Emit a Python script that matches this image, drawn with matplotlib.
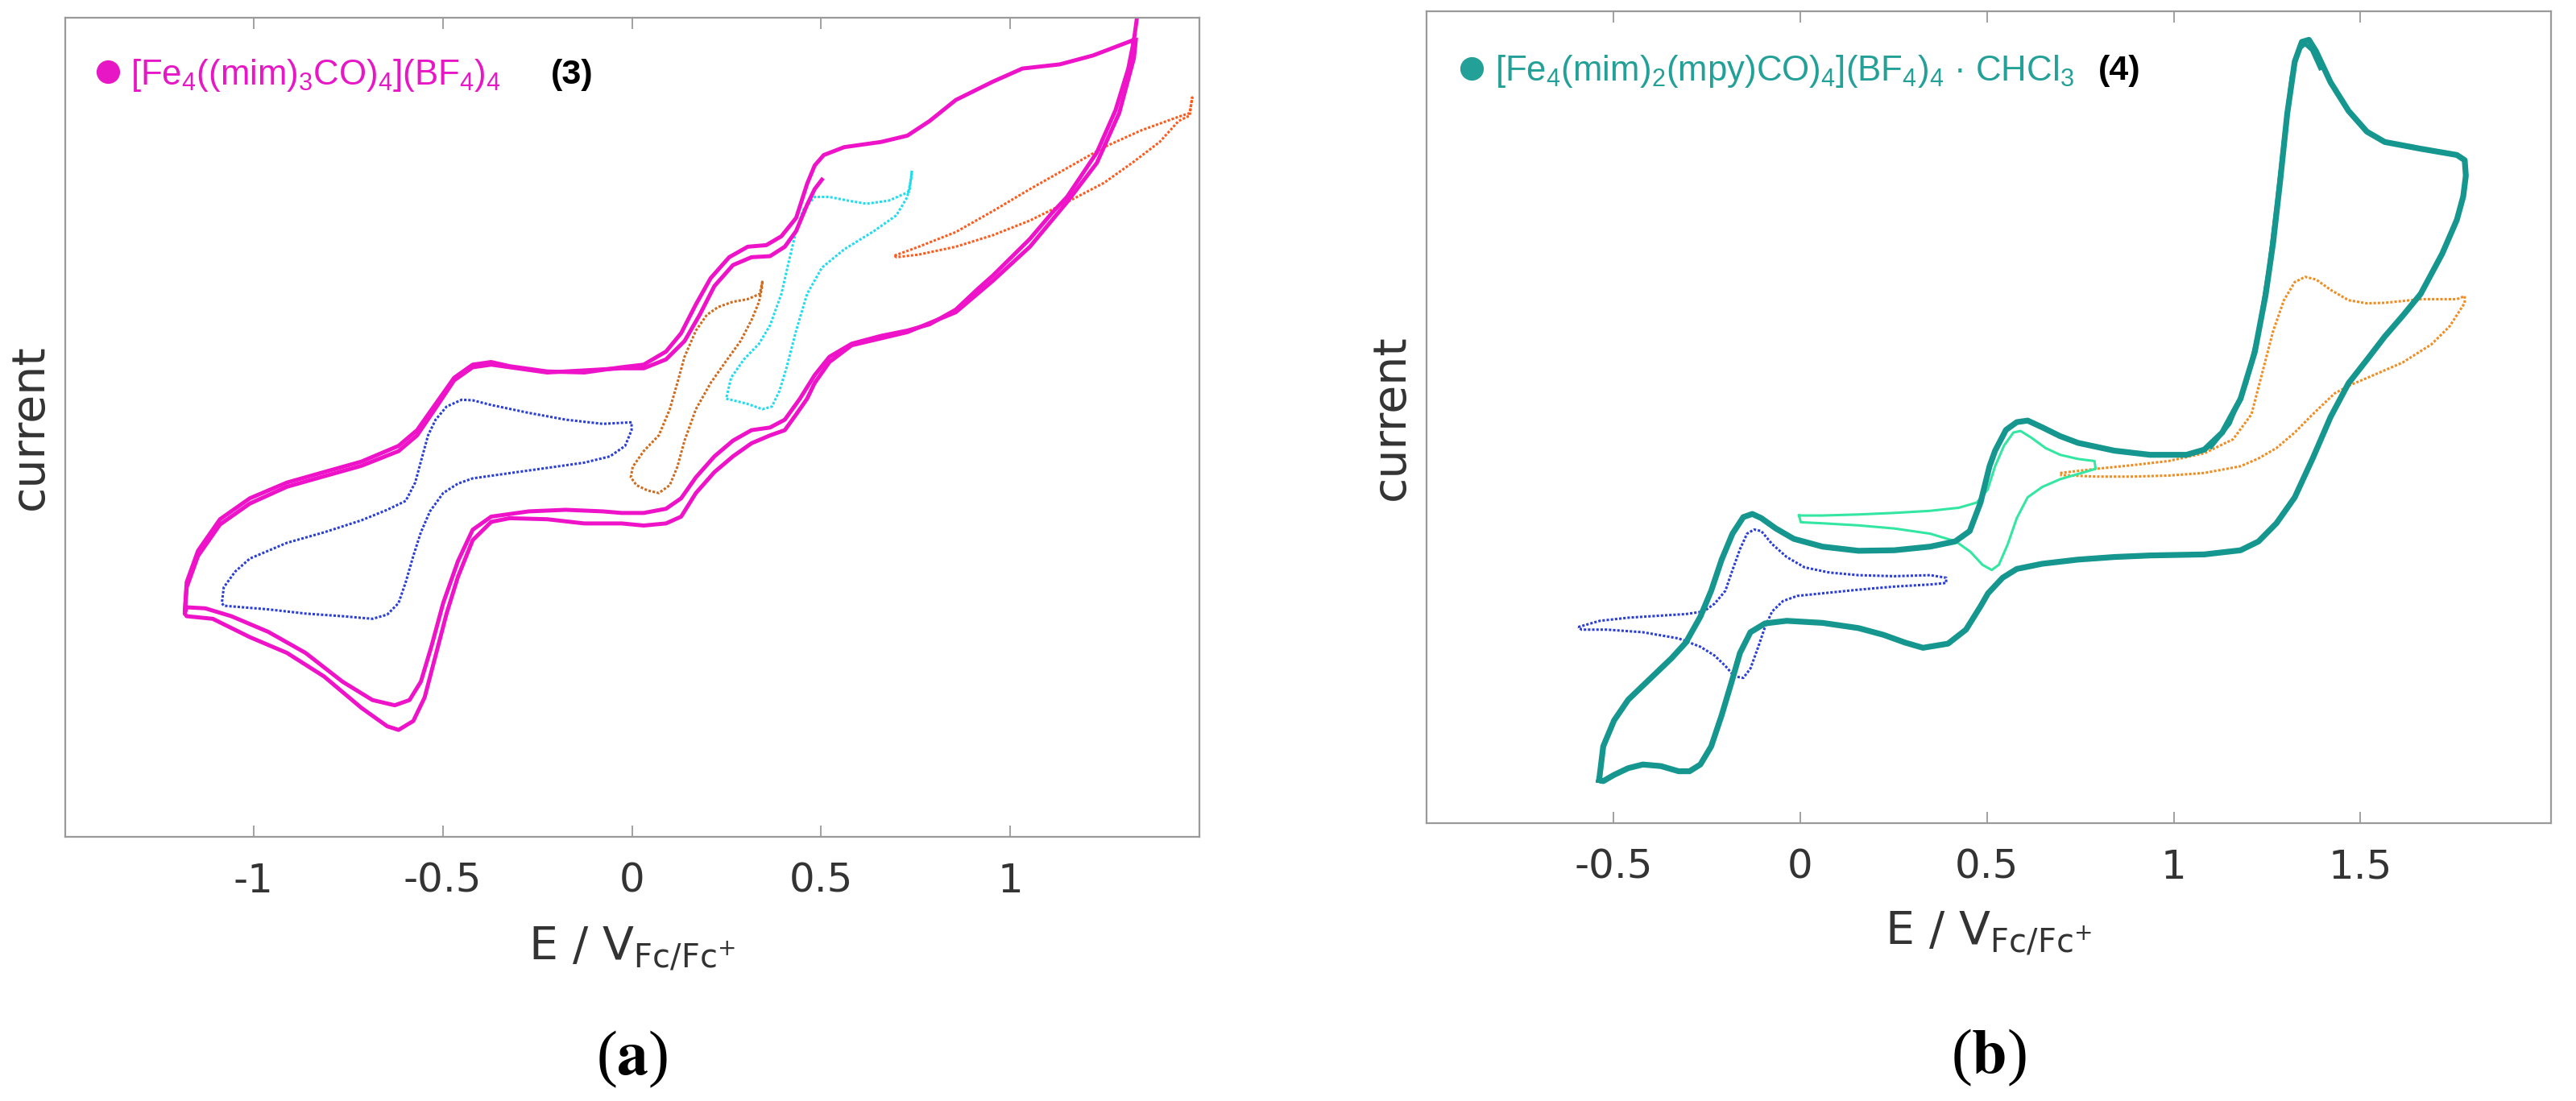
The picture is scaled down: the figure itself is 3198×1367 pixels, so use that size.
import matplotlib
matplotlib.use("Agg")
import matplotlib.pyplot as plt
from matplotlib.lines import Line2D
from matplotlib import font_manager

# ---------------- data (E in V vs Fc/Fc+, current in arbitrary units) ----------------
# panel (a): compound 3, two full scans (magenta)
a_scan1_E = [1.334, 1.327, 1.312, 1.278, 1.229, 1.150, 1.111, 1.052, 0.954, 0.915,
             0.856, 0.787, 0.728, 0.659, 0.581, 0.522, 0.483, 0.444, 0.404, 0.365,
             0.316, 0.267, 0.218, 0.169, 0.130, 0.090, 0.031, -0.027, -0.077, -0.175,
             -0.273, -0.372, -0.421, -0.460, -0.499, -0.529, -0.558, -0.588, -0.627, -0.686,
             -0.765, -0.863, -0.961, -1.059, -1.128, -1.177, -1.182,
             -1.182, -1.177, -1.147, -1.089, -1.010, -0.912, -0.814, -0.715, -0.617, -0.568,
             -0.519, -0.470, -0.421, -0.372, -0.323, -0.224, -0.126, -0.028, 0.031, 0.090,
             0.130, 0.169, 0.208, 0.257, 0.306, 0.355, 0.395, 0.434, 0.463, 0.483,
             0.507, 0.561, 0.659, 0.728, 0.787, 0.856, 0.954, 1.032, 1.131, 1.219,
             1.317, 1.327]
a_scan1_I = [15.58, 15.21, 14.66, 13.86, 13.06, 12.21, 11.91, 11.41, 10.71, 10.46,
             10.06, 9.78, 9.66, 9.56, 9.41, 9.16, 8.81, 8.36, 7.96, 7.81,
             7.76, 7.56, 7.26, 6.86, 6.46, 6.26, 6.18, 6.18, 6.21, 6.24,
             6.21, 6.11, 5.86, 5.26, 4.46, 3.66, 2.96, 2.61, 2.51, 2.61,
             2.96, 3.51, 3.91, 4.21, 4.36, 4.38, 4.26,
             4.30, 4.86, 5.46, 6.06, 6.46, 6.76, 6.96, 7.16, 7.46, 7.76,
             8.26, 8.76, 9.01, 9.06, 8.98, 8.88, 8.86, 8.96, 9.01, 9.26,
             9.61, 10.16, 10.66, 11.06, 11.26, 11.29, 11.46, 11.81, 12.46, 12.81,
             13.01, 13.16, 13.26, 13.38, 13.66, 14.06, 14.41, 14.66, 14.74, 14.91,
             15.18, 15.21]
a_scan2_E = [1.332, 1.327, 1.288, 1.229, 1.150, 1.052, 0.954, 0.856, 0.728, 0.581,
             0.522, 0.483, 0.463, 0.434, 0.404, 0.365, 0.316, 0.267, 0.218, 0.169,
             0.130, 0.090, 0.031, -0.027, -0.126, -0.224, -0.323, -0.372, -0.421, -0.460,
             -0.490, -0.519, -0.548, -0.578, -0.617, -0.647, -0.715, -0.814, -0.912, -1.010,
             -1.108, -1.177, -1.182,
             -1.177, -1.147, -1.089, -1.010, -0.912, -0.814, -0.715, -0.617, -0.568, -0.519,
             -0.470, -0.421, -0.372, -0.224, -0.028, 0.031, 0.090, 0.139, 0.179, 0.218,
             0.267, 0.316, 0.365, 0.404, 0.434, 0.463, 0.483, 0.502]
a_scan2_I = [15.21, 14.86, 13.81, 12.86, 12.11, 11.26, 10.61, 10.01, 9.63, 9.38,
             9.06, 8.66, 8.36, 8.06, 7.76, 7.66, 7.51, 7.26, 6.96, 6.56,
             6.11, 5.98, 5.94, 5.98, 5.98, 6.06, 6.08, 6.01, 5.66, 4.96,
             4.26, 3.46, 2.66, 2.21, 2.04, 2.11, 2.46, 3.06, 3.51, 3.81,
             4.16, 4.21, 4.26,
             4.76, 5.36, 5.96, 6.36, 6.68, 6.88, 7.08, 7.36, 7.66, 8.18,
             8.71, 8.96, 9.01, 8.86, 8.94, 8.94, 9.11, 9.46, 9.96, 10.51,
             10.91, 11.06, 11.08, 11.26, 11.56, 12.06, 12.36, 12.54]
# panel (a): partial scans (dotted)
a_blue_E = [-0.001, -0.077, -0.175, -0.273, -0.372, -0.421, -0.450, -0.490, -0.519, -0.539,
            -0.558, -0.573, -0.598, -0.647, -0.715, -0.814, -0.912, -1.010, -1.049, -1.079,
            -1.084, -1.079, -0.961, -0.863, -0.765, -0.686, -0.647, -0.617, -0.598, -0.578,
            -0.558, -0.534, -0.499, -0.460, -0.421, -0.323, -0.224, -0.126, -0.058, -0.018,
            -0.001, -0.001]
a_blue_I = [7.91, 7.88, 7.96, 8.09, 8.24, 8.33, 8.34, 8.21, 7.96, 7.66,
            7.16, 6.76, 6.41, 6.24, 6.04, 5.81, 5.61, 5.31, 5.06, 4.76,
            4.46, 4.41, 4.34, 4.26, 4.21, 4.16, 4.24, 4.46, 4.86, 5.36,
            5.81, 6.21, 6.56, 6.74, 6.84, 6.94, 7.04, 7.14, 7.26, 7.46,
            7.76, 7.91]
a_orange_E = [0.345, 0.338, 0.306, 0.267, 0.228, 0.198, 0.169, 0.139, 0.120, 0.100,
              0.071, 0.031, 0.002, -0.003, 0.012, 0.041, 0.071, 0.100, 0.120, 0.139,
              0.169, 0.208, 0.247, 0.287, 0.316, 0.336, 0.343, 0.345]
a_orange_I = [10.61, 10.36, 10.26, 10.21, 10.11, 9.96, 9.66, 9.16, 8.66, 8.16,
              7.66, 7.36, 7.06, 6.86, 6.71, 6.61, 6.56, 6.71, 7.06, 7.56,
              8.16, 8.66, 9.06, 9.46, 9.86, 10.21, 10.46, 10.61]
a_cyan_E = [0.740, 0.733, 0.679, 0.620, 0.571, 0.522, 0.483, 0.453, 0.434, 0.414,
            0.395, 0.365, 0.336, 0.296, 0.262, 0.249, 0.267, 0.306, 0.345, 0.370,
            0.390, 0.409, 0.434, 0.463, 0.502, 0.561, 0.640, 0.699, 0.728, 0.738,
            0.740]
a_cyan_I = [12.71, 12.31, 12.14, 12.08, 12.14, 12.21, 12.21, 11.96, 11.56, 10.96,
            10.36, 9.76, 9.41, 9.11, 8.76, 8.36, 8.33, 8.26, 8.16, 8.21,
            8.51, 8.96, 9.66, 10.36, 10.86, 11.21, 11.56, 11.86, 12.21, 12.56,
            12.71]
a_red_E = [0.694, 0.758, 0.856, 0.954, 1.052, 1.150, 1.248, 1.346, 1.445, 1.474,
           1.481, 1.474, 1.445, 1.395, 1.326, 1.248, 1.150, 1.052, 0.954, 0.856,
           0.758, 0.699, 0.694]
a_red_I = [11.09, 11.26, 11.54, 11.94, 12.36, 12.76, 13.16, 13.48, 13.74, 13.81,
           14.11, 13.76, 13.66, 13.26, 12.88, 12.48, 12.11, 11.76, 11.48, 11.26,
           11.11, 11.06, 11.09]

# panel (b): compound 4 (teal, full scans)
b_teal_E = [-0.538, -0.527, -0.498, -0.460, -0.402, -0.344, -0.306, -0.267, -0.238, -0.210,
            -0.181, -0.152, -0.128, -0.104, -0.065, -0.017, 0.060, 0.156, 0.252, 0.348,
            0.415, 0.454, 0.483, 0.507, 0.522, 0.551, 0.580, 0.609, 0.648, 0.696,
            0.744, 0.841, 0.937, 1.034, 1.082, 1.130, 1.179, 1.217, 1.246, 1.266,
            1.285, 1.304, 1.324, 1.343, 1.362, 1.381, 1.420, 1.468, 1.517, 1.565,
            1.661, 1.758, 1.779,
            1.782, 1.775, 1.758, 1.719, 1.661, 1.613, 1.565, 1.517, 1.468, 1.420,
            1.372, 1.324, 1.275, 1.227, 1.179, 1.082, 0.937, 0.841, 0.744, 0.648,
            0.580, 0.542, 0.503, 0.483, 0.444, 0.396, 0.329, 0.281, 0.223, 0.156,
            0.060, -0.036, -0.094, -0.133, -0.161, -0.181, -0.210, -0.238, -0.267, -0.296,
            -0.325, -0.373, -0.421, -0.460, -0.498, -0.527, -0.538]
b_teal_I = [0.83, 1.48, 1.98, 2.38, 2.78, 3.18, 3.48, 3.98, 4.48, 5.08,
            5.58, 5.90, 5.96, 5.88, 5.68, 5.48, 5.33, 5.25, 5.26, 5.33,
            5.43, 5.63, 6.18, 6.88, 7.18, 7.58, 7.73, 7.76, 7.63, 7.46,
            7.33, 7.18, 7.10, 7.10, 7.20, 7.53, 8.18, 9.08, 10.18, 11.18,
            12.38, 13.68, 14.68, 15.06, 15.10, 14.88, 14.28, 13.73, 13.33, 13.13,
            13.00, 12.88, 12.78,
            12.48, 12.08, 11.63, 10.98, 10.20, 9.78, 9.38, 8.93, 8.48, 7.83,
            7.03, 6.28, 5.78, 5.43, 5.26, 5.18, 5.16, 5.13, 5.08, 5.00,
            4.90, 4.73, 4.43, 4.18, 3.73, 3.46, 3.38, 3.48, 3.63, 3.76,
            3.86, 3.90, 3.85, 3.68, 3.28, 2.78, 2.08, 1.48, 1.13, 1.00,
            1.00, 1.10, 1.13, 1.06, 0.93, 0.81, 0.83]
b_teal2_E = [1.100, 1.150, 1.195, 1.228, 1.255, 1.277, 1.297, 1.316, 1.335, 1.352, 1.370, 1.392]
b_teal2_I = [7.25, 7.70, 8.50, 9.50, 10.70, 12.00, 13.30, 14.40, 14.92, 15.02, 14.90, 14.55]
b_blue_E = [-0.594, -0.536, -0.460, -0.373, -0.306, -0.258, -0.229, -0.200, -0.181, -0.161,
            -0.142, -0.123, -0.104, -0.075, -0.036, 0.012, 0.079, 0.156, 0.252, 0.348,
            0.391, 0.391, 0.348, 0.252, 0.156, 0.060, -0.008, -0.046, -0.075, -0.094,
            -0.113, -0.133, -0.152, -0.176, -0.200, -0.229, -0.267, -0.325, -0.421, -0.517,
            -0.585, -0.594]
b_blue_I = [3.78, 3.90, 3.96, 4.00, 4.03, 4.08, 4.23, 4.48, 4.88, 5.28,
            5.58, 5.66, 5.63, 5.38, 5.13, 4.93, 4.83, 4.78, 4.76, 4.78,
            4.73, 4.63, 4.60, 4.56, 4.50, 4.43, 4.38, 4.28, 4.08, 3.78,
            3.38, 2.98, 2.80, 2.83, 3.03, 3.23, 3.40, 3.56, 3.68, 3.73,
            3.73, 3.78]
b_mint_E = [-0.003, 0.060, 0.156, 0.252, 0.348, 0.425, 0.473, 0.502, 0.522, 0.546,
            0.571, 0.590, 0.619, 0.657, 0.696, 0.744, 0.788, 0.791, 0.744, 0.696,
            0.648, 0.609, 0.580, 0.556, 0.532, 0.513, 0.488, 0.456, 0.417, 0.348,
            0.252, 0.156, 0.060, 0.002, -0.003]
b_mint_I = [5.93, 5.93, 5.95, 5.98, 6.02, 6.08, 6.18, 6.43, 6.88, 7.28,
            7.53, 7.56, 7.43, 7.23, 7.10, 7.02, 6.98, 6.83, 6.73, 6.63,
            6.48, 6.28, 5.88, 5.38, 4.98, 4.88, 4.98, 5.23, 5.43, 5.58,
            5.68, 5.74, 5.78, 5.80, 5.93]
b_orange_E = [0.696, 0.793, 0.889, 0.986, 1.082, 1.159, 1.208, 1.237, 1.266, 1.295,
              1.324, 1.352, 1.381, 1.420, 1.468, 1.517, 1.565, 1.661, 1.758, 1.779,
              1.779, 1.739, 1.690, 1.613, 1.517, 1.468, 1.430, 1.372, 1.324, 1.275,
              1.227, 1.179, 1.082, 0.986, 0.889, 0.793, 0.696]
b_orange_I = [6.75, 6.83, 6.90, 6.98, 7.13, 7.40, 7.88, 8.68, 9.48, 10.08,
              10.43, 10.53, 10.48, 10.28, 10.08, 10.02, 10.03, 10.10, 10.10, 10.16,
              10.03, 9.58, 9.23, 8.88, 8.58, 8.43, 8.28, 7.88, 7.53, 7.23,
              7.03, 6.88, 6.75, 6.70, 6.68, 6.68, 6.71]

a_xticks = [-1, -0.5, 0, 0.5, 1]
a_xticklabels = ['-1', '-0.5', '0', '0.5', '1']
b_xticks = [-0.5, 0, 0.5, 1, 1.5]
b_xticklabels = ['-0.5', '0', '0.5', '1', '1.5']
a_legend = r'[Fe$_4$((mim)$_3$CO)$_4$](BF$_4$)$_4$'
b_legend = r'[Fe$_4$(mim)$_2$(mpy)CO)$_4$](BF$_4$)$_4$ · CHCl$_3$'
a_tag, b_tag = '(3)', '(4)'
xlabel_text = r'E / V$_{\mathregular{Fc/Fc}^{+}}$'
ylabel_text = 'current'

# ---------------- style ----------------
names = {f.name for f in font_manager.fontManager.ttflist}
leg_font = 'Liberation Sans Narrow' if 'Liberation Sans Narrow' in names else 'Liberation Sans'
leg_size = 34 if leg_font == 'Liberation Sans Narrow' else 31.5
plt.rcParams['mathtext.fontset'] = 'custom'
plt.rcParams['mathtext.rm'] = leg_font
plt.rcParams['mathtext.it'] = leg_font + ':italic'
plt.rcParams['mathtext.bf'] = leg_font + ':bold'
plt.rcParams['font.family'] = ['DejaVu Sans']

MAG = '#ee12c8'
TEAL = '#15968f'
FRAME = '#9a9a9a'
TXT = '#333333'
dot = (0, (1.0, 0.7))

fig = plt.figure(figsize=(31.98, 13.67), dpi=100)
axA = fig.add_axes([0.02533, 0.23994, 0.44028, 0.74397])
axB = fig.add_axes([0.55378, 0.25238, 0.43652, 0.73738])

def style(ax, xlim, ylim, ticks, labels):
    ax.set_xlim(*xlim)
    ax.set_ylim(*ylim)
    ax.set_xticks(ticks)
    ax.set_xticklabels(labels)
    ax.set_yticks([])
    for s in ax.spines.values():
        s.set_color(FRAME)
        s.set_linewidth(1.6)
    ax.tick_params(axis='x', direction='in', length=10, width=1.3, color=FRAME,
                   top=True, labelsize=36, labelcolor=TXT, pad=22)
    ax.set_xlabel(xlabel_text, fontsize=41, color=TXT, math_fontfamily='dejavusans', va='center')
    ax.xaxis.set_label_coords(0.5, -0.136)
    ax.set_ylabel(ylabel_text, fontsize=41, color=TXT, va='center')
    ax.yaxis.set_label_coords(-0.031, 0.5)

style(axA, (-1.498, 1.50), (0, 15.63), a_xticks, a_xticklabels)
style(axB, (-1.0, 2.01), (0, 15.65), b_xticks, b_xticklabels)

# panel (a)
axA.plot(a_blue_E, a_blue_I, color='#2a3ed8', lw=2.2, ls=dot)
axA.plot(a_orange_E, a_orange_I, color='#d06a1c', lw=2.2, ls=dot)
axA.plot(a_cyan_E, a_cyan_I, color='#20dcef', lw=2.2, ls=dot)
axA.plot(a_red_E, a_red_I, color='#ff5a1c', lw=2.2, ls=dot)
axA.plot(a_scan1_E, a_scan1_I, color=MAG, lw=3.6, solid_joinstyle='round')
axA.plot(a_scan2_E, a_scan2_I, color=MAG, lw=3.6, solid_joinstyle='round')

# panel (b)
axB.plot(b_blue_E, b_blue_I, color='#2b3ed8', lw=2.2, ls=dot)
axB.plot(b_orange_E, b_orange_I, color='#f08c20', lw=2.2, ls=dot)
axB.plot(b_mint_E, b_mint_I, color='#33e6a2', lw=2.2)
axB.plot(b_teal_E, b_teal_I, color=TEAL, lw=5.2, solid_joinstyle='round')
axB.plot(b_teal2_E, b_teal2_I, color=TEAL, lw=3.5, solid_joinstyle='round')

# legends
def legend(ax, text, color, anchor, tag, tagx):
    h = Line2D([], [], marker='o', ls='none', color=color, ms=20)
    leg = ax.legend([h], [text], loc='upper left', bbox_to_anchor=anchor,
                    frameon=False, borderpad=0, borderaxespad=0,
                    handlelength=0.6, handletextpad=0.35,
                    prop=dict(family=leg_font, size=leg_size, math_fontfamily='custom'))
    for t in leg.get_texts():
        t.set_color(color)
    ax.text(tagx, anchor[1] - 0.002, tag, transform=ax.transAxes, ha='left', va='top',
            fontsize=31, fontweight='bold', family='Liberation Sans', color='black')

legend(axA, a_legend, '#e817c6', (0.028, 0.952), a_tag, 0.428)
legend(axB, b_legend, '#23a098', (0.031, 0.948), b_tag, 0.597)

# panel tags
fig.text(785 / 3198, 1 - 1315 / 1367, r'($\mathbf{a}$)', ha='center', va='center',
         fontsize=56, family='Liberation Serif', math_fontfamily='stix')
fig.text(2469 / 3198, 1 - 1313 / 1367, r'($\mathbf{b}$)', ha='center', va='center',
         fontsize=56, family='Liberation Serif', math_fontfamily='stix')

fig.savefig('out.png', dpi=100)
